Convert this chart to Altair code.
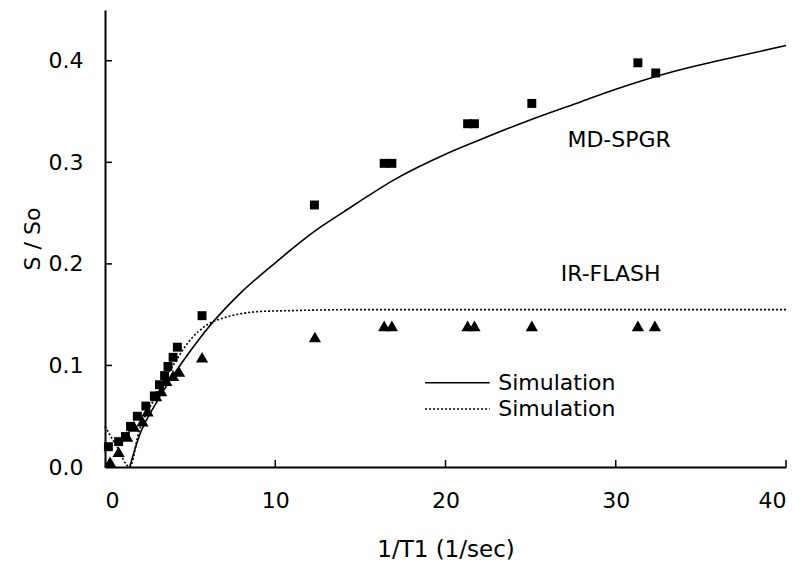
import altair as alt
import pandas as pd

# Measured data: MD-SPGR (squares)
spgr_x = [0.2, 0.8, 1.2, 1.5, 1.9, 2.4, 2.9, 3.2, 3.5, 3.7, 4.0, 4.25, 5.7, 12.3, 16.4, 16.85, 21.3, 21.7, 25.07, 31.3, 32.35]
spgr_y = [0.02, 0.025, 0.03, 0.04, 0.05, 0.06, 0.07, 0.081, 0.09, 0.099, 0.108, 0.118, 0.149, 0.258, 0.299, 0.299, 0.338, 0.338, 0.358, 0.398, 0.388]

# Measured data: IR-FLASH (triangles)
flash_x = [0.3, 0.8, 1.3, 1.7, 2.2, 2.5, 3.0, 3.3, 3.6, 4.0, 4.35, 5.7, 12.33, 16.4, 16.85, 21.3, 21.7, 25.07, 31.3, 32.3]
flash_y = [0.005, 0.015, 0.03, 0.04, 0.045, 0.055, 0.07, 0.075, 0.085, 0.09, 0.094, 0.108, 0.128, 0.139, 0.139, 0.139, 0.139, 0.139, 0.139, 0.139]

# Simulation curves
sim1_x = [1.45, 2, 3, 4, 5, 6, 7, 8, 9, 10, 11, 12.3, 14, 15, 17, 20, 22, 25, 28, 30, 33.5, 36, 40]
sim1_y = [0.0, 0.03, 0.063, 0.09, 0.114, 0.136, 0.155, 0.172, 0.187, 0.201, 0.215, 0.232, 0.251, 0.262, 0.283, 0.308, 0.322, 0.342, 0.36, 0.372, 0.39, 0.4, 0.415]
sim2_x = [0, 0.7, 1.45, 2, 3, 4, 5, 6, 7, 8, 9, 11, 15, 40]
sim2_y = [0.04, 0.02, 0.0, 0.035, 0.07, 0.1, 0.125, 0.14, 0.147, 0.151, 0.153, 0.154, 0.155, 0.155]

# Labels
labels_text = ["MD-SPGR", "IR-FLASH"]
labels_x = [30.2, 29.7]
labels_y = [0.322, 0.19]

legend_line_x = [18.8, 22.6]
legend_y = [0.083, 0.057]
legend_text = ["Simulation", "Simulation"]
legend_text_x = [23.1, 23.1]

x_ticks = [10, 20, 30, 40]
y_ticks = [0.1, 0.2, 0.3, 0.4]

FONT = "DejaVu Sans"
FS = 22
W, H = 681, 457

xs = alt.Scale(domain=[0, 40], nice=False)
ys = alt.Scale(domain=[0, 0.45], nice=False)

df_s = pd.DataFrame({"x": spgr_x, "y": spgr_y})
df_f = pd.DataFrame({"x": flash_x, "y": flash_y})
df_1 = pd.DataFrame({"x": sim1_x, "y": sim1_y})
df_2 = pd.DataFrame({"x": sim2_x, "y": sim2_y})
df_lab = pd.DataFrame({"x": labels_x, "y": labels_y, "t": labels_text})
df_leg1 = pd.DataFrame({"x": legend_line_x, "y": [legend_y[0]] * 2})
df_leg2 = pd.DataFrame({"x": legend_line_x, "y": [legend_y[1]] * 2})
df_legt = pd.DataFrame({"x": legend_text_x, "y": legend_y, "t": legend_text})
df_xt = pd.DataFrame({"x": x_ticks})
df_yt = pd.DataFrame({"y": y_ticks})

xaxis = alt.Axis(title="1/T1 (1/sec)", values=[0, 10, 20, 30, 40], format="d", ticks=False, grid=False,
                 labelFont=FONT, labelFontSize=FS, labelColor="black", labelPadding=23,
                 titleFont=FONT, titleFontSize=23, titleFontWeight="normal", titleColor="black", titlePadding=27,
                 domainColor="black", domainWidth=2)
yaxis = alt.Axis(title="S / So", values=[0, 0.1, 0.2, 0.3, 0.4], format=".1f", ticks=False, grid=False,
                 labelFont=FONT, labelFontSize=FS, labelColor="black", labelPadding=22,
                 titleFont=FONT, titleFontSize=FS, titleFontWeight="normal", titleColor="black", titlePadding=4,
                 domainColor="black", domainWidth=2)

base_x = alt.X("x:Q", scale=xs, axis=xaxis)
base_y = alt.Y("y:Q", scale=ys, axis=yaxis)

squares = alt.Chart(df_s).mark_point(shape="square", filled=True, color="black", size=80, opacity=1).encode(x=base_x, y=base_y)
tris = alt.Chart(df_f).mark_point(shape="triangle-up", filled=True, color="black", size=150, opacity=1).encode(
    x=alt.X("x:Q", scale=xs), y=alt.Y("y:Q", scale=ys))
line1 = alt.Chart(df_1).mark_line(color="black", strokeWidth=1.6, interpolate="monotone").encode(
    x=alt.X("x:Q", scale=xs), y=alt.Y("y:Q", scale=ys))
line2 = alt.Chart(df_2).mark_line(color="black", strokeWidth=1.6, strokeDash=[2, 2], interpolate="monotone").encode(
    x=alt.X("x:Q", scale=xs), y=alt.Y("y:Q", scale=ys))
labs = alt.Chart(df_lab).mark_text(font=FONT, fontSize=FS, color="black", align="center", baseline="middle").encode(
    x=alt.X("x:Q", scale=xs), y=alt.Y("y:Q", scale=ys), text="t:N")
leg1 = alt.Chart(df_leg1).mark_line(color="black", strokeWidth=1.5).encode(
    x=alt.X("x:Q", scale=xs), y=alt.Y("y:Q", scale=ys))
leg2 = alt.Chart(df_leg2).mark_line(color="black", strokeWidth=1.5, strokeDash=[2, 2]).encode(
    x=alt.X("x:Q", scale=xs), y=alt.Y("y:Q", scale=ys))
legt = alt.Chart(df_legt).mark_text(font=FONT, fontSize=FS, color="black", align="left", baseline="middle").encode(
    x=alt.X("x:Q", scale=xs), y=alt.Y("y:Q", scale=ys), text="t:N")
xt = alt.Chart(df_xt).mark_rule(color="black", strokeWidth=1.5).encode(
    x=alt.X("x:Q", scale=xs), y=alt.value(H), y2=alt.value(H - 7))
yt = alt.Chart(df_yt).mark_rule(color="black", strokeWidth=1.5).encode(
    y=alt.Y("y:Q", scale=ys), x=alt.value(0), x2=alt.value(7))

chart = alt.layer(squares, tris, line1, line2, labs, leg1, leg2, legt, xt, yt).properties(
    width=W, height=H,
    autosize=alt.AutoSizeParams(type="none"),
    padding={"left": 105, "top": 10, "right": 20, "bottom": 102},
    background="white",
).configure_view(stroke=None)

chart.save("out.html", embed_options={"renderer": "svg", "actions": False})
